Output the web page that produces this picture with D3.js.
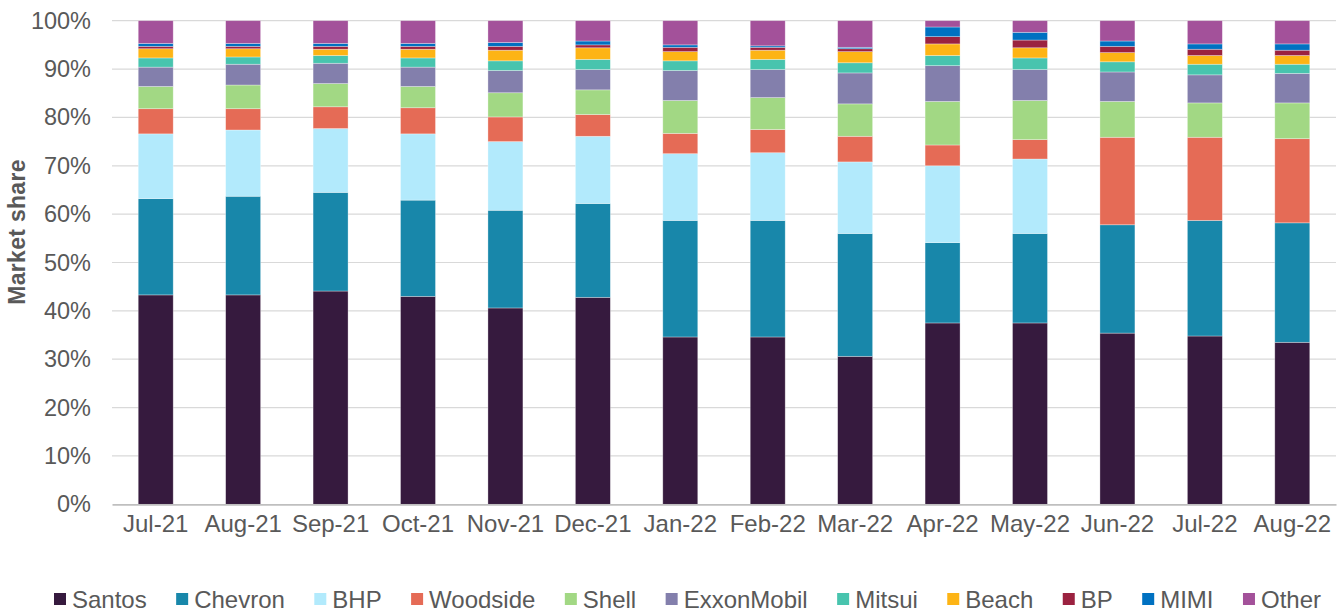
<!DOCTYPE html>
<html>
<head>
<meta charset="utf-8">
<script src="https://cdn.jsdelivr.net/npm/d3@7"></script>
<style>
  body { margin: 0; background: #fff; }
  #chart-area { width: 1341px; height: 612px; }
  text { font-family: "Liberation Sans", Arial, sans-serif; fill: #595959; }
</style>
</head>
<body>
<div id="chart-area"></div>
<script>
// Months on the x axis
const months = ["Jul-21", "Aug-21", "Sep-21", "Oct-21", "Nov-21", "Dec-21", "Jan-22",
  "Feb-22", "Mar-22", "Apr-22", "May-22", "Jun-22", "Jul-22", "Aug-22"];

// Market share per company (%)
const santos     = [43.3, 43.3, 44.1, 43.0, 40.6, 42.8, 34.6, 34.6, 30.6, 37.5, 37.5, 35.4, 34.8, 33.5];
const chevron    = [19.9, 20.4, 20.4, 19.9, 20.2, 19.4, 24.1, 24.1, 25.4, 16.6, 18.5, 22.4, 23.9, 24.7];
const bhp        = [13.4, 13.7, 13.2, 13.7, 14.2, 13.9, 13.8, 14.0, 14.8, 15.9, 15.4, 0, 0, 0];
const woodside   = [5.2, 4.4, 4.5, 5.4, 5.1, 4.5, 4.2, 4.8, 5.3, 4.3, 4.0, 18.1, 17.2, 17.4];
const shell      = [4.6, 4.9, 4.8, 4.4, 5.0, 5.1, 6.8, 6.6, 6.7, 9.0, 8.1, 7.4, 7.1, 7.4];
const exxonMobil = [4.0, 4.3, 4.2, 4.0, 4.6, 4.2, 6.2, 5.8, 6.4, 7.4, 6.4, 6.1, 5.8, 6.1];
const mitsui     = [1.9, 1.5, 1.6, 1.9, 2.0, 2.1, 2.0, 2.1, 2.1, 2.1, 2.4, 2.1, 2.2, 1.9];
const beach      = [1.9, 1.7, 1.3, 1.8, 2.2, 2.4, 1.9, 1.9, 2.3, 2.4, 2.1, 1.9, 1.8, 1.8];
const bp         = [0.5, 0.5, 0.6, 0.6, 0.8, 0.6, 0.9, 0.6, 0.6, 1.5, 1.6, 1.3, 1.3, 1.1];
const mimi       = [0.6, 0.6, 0.6, 0.6, 0.8, 0.8, 0.5, 0.3, 0.3, 2.0, 1.6, 1.1, 1.1, 1.3];
const other      = [4.7, 4.7, 4.7, 4.7, 4.5, 4.2, 5.0, 5.2, 5.5, 1.3, 2.4, 4.2, 4.8, 4.8];

const companies = ["Santos", "Chevron", "BHP", "Woodside", "Shell", "ExxonMobil",
  "Mitsui", "Beach", "BP", "MIMI", "Other"];
const seriesValues = [santos, chevron, bhp, woodside, shell, exxonMobil,
  mitsui, beach, bp, mimi, other];
const colors = ["#361a3e", "#1887aa", "#b2eafc", "#e56b56", "#a2d884", "#837fac",
  "#48c4ae", "#fdb415", "#9b2240", "#0071c1", "#a3519a"];

const yTicks = [0, 10, 20, 30, 40, 50, 60, 70, 80, 90, 100];

// Build rows for d3.stack
const rows = months.map((m, i) => {
  const row = { month: m };
  companies.forEach((c, j) => { row[c] = seriesValues[j][i]; });
  return row;
});

const width = 1341, height = 612;
const margin = { left: 112, right: 5, top: 20.7, bottom: 107.7 };
const fontFamily = "'Liberation Sans', Arial, sans-serif";

const svg = d3.select("#chart-area")
  .append("svg")
  .attr("width", width)
  .attr("height", height);

const x = d3.scaleBand()
  .domain(months)
  .range([margin.left, width - margin.right])
  .paddingInner(0.6)
  .paddingOuter(0.3);

const y = d3.scaleLinear()
  .domain([0, 100])
  .range([height - margin.bottom, margin.top]);

const color = d3.scaleOrdinal().domain(companies).range(colors);

// Gridlines
svg.append("g")
  .selectAll("line")
  .data(yTicks.slice(1))
  .join("line")
  .attr("x1", margin.left).attr("x2", width - margin.right)
  .attr("y1", d => y(d)).attr("y2", d => y(d))
  .attr("stroke", "#d9d9d9")
  .attr("stroke-width", 1.2);

// Y axis labels
const yAxis = svg.append("g")
  .attr("transform", `translate(${margin.left},0)`)
  .call(d3.axisLeft(y).tickValues(yTicks).tickFormat(d => d + "%").tickSize(0).tickPadding(21));
yAxis.select(".domain").remove();
yAxis.selectAll("text")
  .attr("font-size", "23.5px")
  .attr("fill", "#595959")
  .style("font-family", fontFamily);

// Y axis title
svg.append("text")
  .attr("transform", "translate(25,232) rotate(-90)")
  .attr("text-anchor", "middle")
  .attr("font-size", "23px")
  .attr("font-weight", "bold")
  .attr("letter-spacing", "0.3px")
  .text("Market share");

// Stacked bars
const stacked = d3.stack().keys(companies)(rows);

svg.append("g")
  .selectAll("g")
  .data(stacked)
  .join("g")
  .attr("fill", d => color(d.key))
  .selectAll("rect")
  .data(d => d)
  .join("rect")
  .attr("x", d => x(d.data.month))
  .attr("width", x.bandwidth())
  .attr("y", d => y(d[1]))
  .attr("height", d => y(d[0]) - y(d[1]))
  .attr("stroke", "#ffffff")
  .attr("stroke-opacity", 0.45)
  .attr("stroke-width", 0.7);

// X axis
const xAxis = svg.append("g")
  .attr("transform", `translate(0,${y(0)})`)
  .call(d3.axisBottom(x).tickSize(0).tickPadding(11));
xAxis.select(".domain")
  .attr("stroke", "#bfbfbf")
  .attr("stroke-width", 1.8);
xAxis.selectAll("text")
  .attr("font-size", "24px")
  .attr("fill", "#595959")
  .style("font-family", fontFamily);

// Legend: spread the items between the left and right ends seen in the picture
const legend = svg.append("g").attr("transform", "translate(0,600)");
const sq = 12, gapText = 6, legendLeft = 54, legendRight = 1321;
const items = companies.map(c => {
  const g = legend.append("g");
  g.append("rect")
    .attr("x", 0).attr("y", -sq / 2 - 1)
    .attr("width", sq).attr("height", sq)
    .attr("fill", color(c));
  const t = g.append("text")
    .attr("x", sq + gapText)
    .attr("y", 0)
    .attr("dy", "0.35em")
    .attr("font-size", "24px")
    .text(c);
  return { g, w: sq + gapText + t.node().getComputedTextLength() };
});
const totalW = d3.sum(items, d => d.w);
const gapItem = (legendRight - legendLeft - totalW) / (items.length - 1);
let cursor = legendLeft;
items.forEach(d => {
  d.g.attr("transform", `translate(${cursor},0)`);
  cursor += d.w + gapItem;
});
</script>
</body>
</html>
